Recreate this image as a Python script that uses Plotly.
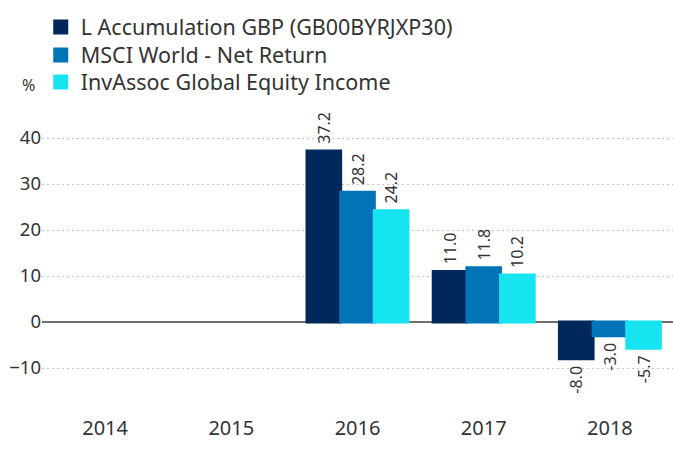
import plotly.graph_objects as go

years = ["2014", "2015", "2016", "2017", "2018"]
fund = [None, None, 37.2, 11.0, -8.0]
msci = [None, None, 28.2, 11.8, -3.0]
peer = [None, None, 24.2, 10.2, -5.7]
names = ["L Accumulation GBP (GB00BYRJXP30)", "MSCI World - Net Return", "InvAssoc Global Equity Income"]
colors = ["#00285a", "#0074b6", "#16e4f0"]
tickvals = [-10, 0, 10, 20, 30, 40]
legend_ids = ["legend", "legend2", "legend3"]
legend_rows = [27, 55, 82]  # pixel centres of legend rows

PAD = "\u00a0"  # small gap between bar end and its rotated label


def label(v):
    if v is None:
        return ""
    s = f"{v:.1f}"
    return PAD + s if v >= 0 else s + PAD


fig = go.Figure()
for name, vals, col, lg in zip(names, [fund, msci, peer], colors, legend_ids):
    fig.add_trace(go.Bar(
        x=years, y=vals, name=name, legend=lg,
        marker=dict(color=col, line=dict(width=3, color=col)),
        text=[label(v) for v in vals],
        textposition="outside", textangle=-90, cliponaxis=False, constraintext="none",
        textfont=dict(size=16, color="#333333"),
    ))

H = 449
legend_layout = {}
for lg, row in zip(legend_ids, legend_rows):
    legend_layout[lg] = dict(x=-0.002, xanchor="left", yref="container", y=1 - row / H,
                             yanchor="middle", font=dict(size=21.5, color="#333333"),
                             itemwidth=30, bgcolor="rgba(0,0,0,0)")

fig.update_layout(
    width=673, height=H,
    margin=dict(l=42, r=0, t=92, b=35, autoexpand=False),
    paper_bgcolor="white", plot_bgcolor="white",
    font=dict(family="Noto Sans, Open Sans, sans-serif", color="#333333"),
    barmode="group", bargap=0.2, bargroupgap=0,
    showlegend=True,
    xaxis=dict(type="category", tickfont=dict(size=20, color="#333333"),
               showgrid=False, showline=False, ticks="", automargin=False),
    yaxis=dict(range=[-20, 50], tickvals=tickvals, tickfont=dict(size=18.5, color="#333333"),
               showgrid=True, gridcolor="#c4c4c4", griddash="2px,3px", gridwidth=1,
               zeroline=True, zerolinecolor="#6e6e6e", zerolinewidth=1.5,
               showline=False, ticks="", ticklen=0, automargin=False),
    annotations=[dict(text="%", x=-0.022, y=1.022, xref="paper", yref="paper",
                      showarrow=False, font=dict(size=16, color="#333333"),
                      xanchor="center", yanchor="middle")],
    **legend_layout,
)
fig.write_html("out.html", config={"displayModeBar": False},
               post_script="document.body.style.margin='0px';")
